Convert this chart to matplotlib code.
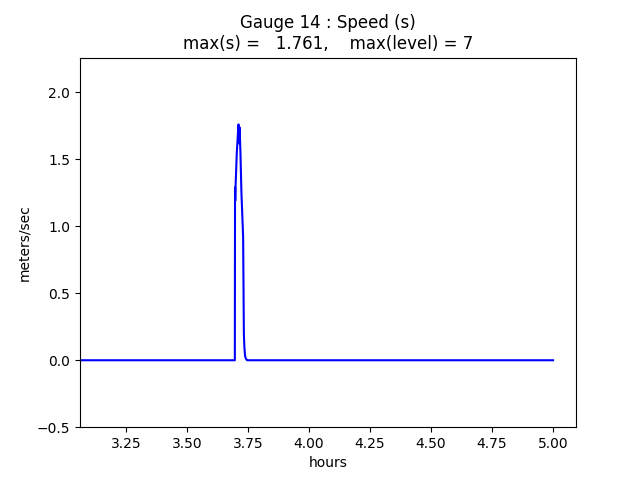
import matplotlib
matplotlib.use('Agg')
import matplotlib.pyplot as plt

gauge_no = 14
max_level = 7

hours = [3.0615, 3.6960, 3.6968, 3.6975, 3.6990, 3.7040, 3.7110, 3.7130, 3.7150,
         3.7170, 3.7190, 3.7230, 3.7300, 3.7330, 3.7350, 3.7380, 3.7420, 3.7460, 5.00]
speed = [0.0, 0.0, 1.29, 1.19, 1.30, 1.55, 1.761, 1.62, 1.74,
         1.66, 1.55, 1.25, 0.92, 0.20, 0.10, 0.03, 0.01, 0.0, 0.0]

fig, ax = plt.subplots(figsize=(6.4, 4.8), dpi=100)
ax.plot(hours, speed, color='b', linewidth=1.5)

s_max = max(speed)
ax.set_title('Gauge %i : Speed (s)\nmax(s) = %7.3f,    max(level) = %i'
             % (gauge_no, s_max, max_level))
ax.set_xlabel('hours')
ax.set_ylabel('meters/sec')
ax.set_xlim(3.0615, 5.094)
ax.set_ylim(-0.5, 2.26)

fig.savefig('out.png')
